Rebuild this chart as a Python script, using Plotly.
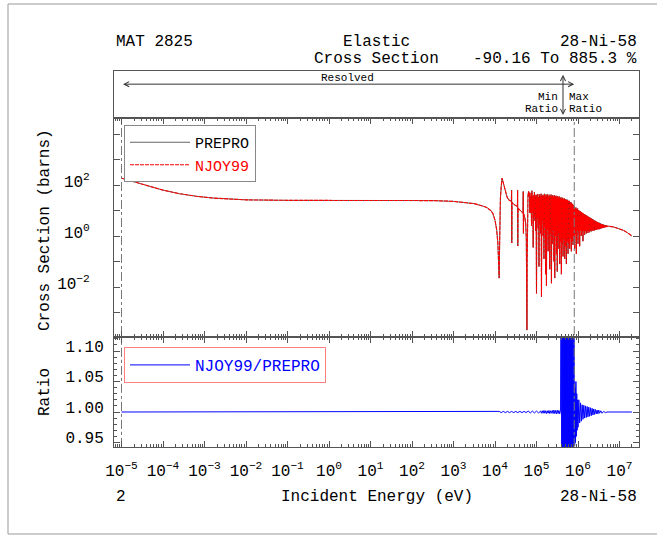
import math
import plotly.graph_objects as go

FONT = "Liberation Mono"

# ---------------- data ----------------
# Elastic cross section: log10(E / eV) and log10(sigma / barns)
xs_log_e = [
    -5.0, -4.7, -4.4, -4.0, -3.6, -3.2, -2.8, -2.4, -2.0, -1.0, 0.0, 1.0, 2.0, 2.5,
    3.0, 3.3, 3.5, 3.7, 3.8, 3.9, 3.95, 4.0, 4.04, 4.07, 4.09, 4.10, 4.11, 4.12, 4.13,
    4.15, 4.17, 4.19, 4.22, 4.26, 4.29, 4.33, 4.395, 4.40, 4.405, 4.41, 4.45, 4.50,
    4.54, 4.545, 4.55, 4.555, 4.60, 4.65, 4.675, 4.68, 4.685, 4.69, 4.72, 4.74, 4.755,
    4.765, 4.77, 4.775, 4.785, 4.795, 4.81, 4.82, 4.83, 4.84,
    # resonance forest
    4.85, 4.86, 4.87, 4.88, 4.89, 4.90, 4.91, 4.92, 4.93, 4.94, 4.95, 4.96, 4.97, 4.98, 4.99,
    5.00, 5.01, 5.02, 5.03, 5.04, 5.05, 5.06, 5.07, 5.08, 5.09, 5.10, 5.11, 5.12, 5.13, 5.14,
    5.15, 5.16, 5.17, 5.18, 5.19, 5.20, 5.21, 5.22, 5.23, 5.24, 5.25, 5.26, 5.27, 5.28, 5.29,
    5.30, 5.31, 5.32, 5.33, 5.34, 5.35, 5.36, 5.37, 5.38, 5.39, 5.40, 5.41, 5.42, 5.43, 5.44,
    5.45, 5.46, 5.47, 5.48, 5.49, 5.50, 5.51, 5.52, 5.53, 5.54, 5.55, 5.56, 5.57, 5.58, 5.59,
    5.60, 5.61, 5.62, 5.63, 5.64, 5.65, 5.66, 5.67, 5.68, 5.69, 5.70, 5.71, 5.72, 5.73, 5.74,
    5.75, 5.76, 5.77, 5.78, 5.79, 5.80, 5.81, 5.82, 5.83, 5.84, 5.85, 5.86, 5.87, 5.88, 5.89,
    5.90,
    # tail
    5.91, 5.92, 5.93, 5.94, 5.95, 5.96, 5.97, 5.98, 5.99, 6.00, 6.01, 6.02, 6.03, 6.04, 6.05,
    6.06, 6.07, 6.08, 6.09, 6.10, 6.11, 6.12, 6.13, 6.14, 6.15, 6.16, 6.17, 6.18, 6.19, 6.20,
    6.21, 6.22, 6.23, 6.24, 6.25, 6.26, 6.27, 6.28, 6.29, 6.30, 6.31, 6.32, 6.33, 6.34, 6.35,
    6.36, 6.37, 6.38, 6.39, 6.40, 6.41, 6.42, 6.43, 6.44, 6.45, 6.46, 6.47, 6.48, 6.49, 6.50,
    6.51, 6.52, 6.53, 6.54, 6.55, 6.56, 6.57, 6.58, 6.59, 6.60, 6.61, 6.62, 6.63, 6.64, 6.65,
    6.66, 6.67, 6.68, 6.69, 6.70, 6.72, 6.75,
    6.85, 7.0, 7.1, 7.2, 7.25, 7.30,
]
xs_log_sig = [
    2.27, 2.12, 1.97, 1.80, 1.66, 1.56, 1.49, 1.45, 1.42, 1.40, 1.40, 1.40, 1.40, 1.39,
    1.36, 1.32, 1.27, 1.18, 1.12, 1.00, 0.88, 0.62, 0.25, -0.30, -1.00, -1.65, -0.50, 0.80, 1.45,
    1.95, 2.27, 2.15, 1.95, 1.65, 1.53, 1.42, 1.36, 1.80, -0.27, 1.32, 1.25, 1.18,
    1.15, 1.80, -0.39, 1.10, 1.02, 0.94, 0.90, 1.75, 0.10, 0.88, 0.71, 0.50, -0.16,
    -1.50, -3.69, -1.00, 0.80, 1.60, 1.75, 1.55, 1.70, 0.90,
    # resonance forest
    1.55, 0.90, 1.70, 0.40, 1.78, 1.00, 1.55, -0.45, 1.60, 0.80, 1.72, 0.60, 1.58, 0.20, 1.62,
    -2.25, 1.55, 0.70, 1.65, 0.30, 1.52, -1.20, 1.63, 0.50, 1.58, 0.10, 1.66, -2.38, 1.56, 0.60,
    1.62, 0.00, 1.58, -0.90, 1.66, 0.40, 1.55, -1.50, 1.63, -1.95, 1.58, 0.30, 1.64, -0.60, 1.55,
    0.20, 1.62, -1.30, 1.57, 0.10, 1.63, -1.85, 1.56, -0.30, 1.60, 0.20, 1.54, -1.00, 1.60, -1.65,
    1.55, 0.00, 1.58, -0.70, 1.52, -1.40, 1.57, 0.10, 1.50, -0.50, 1.55, -1.10, 1.48, -0.20, 1.52,
    -1.50, 1.47, -0.30, 1.50, -0.80, 1.45, -0.10, 1.48, -0.90, 1.42, -0.40, 1.45, -1.10, 1.40, -0.20,
    1.42, -0.70, 1.36, -0.30, 1.38, -0.50, 1.32, -0.10, 1.33, -0.60, 1.28, -0.20, 1.25, -0.35, 1.22,
    0.00,
    # tail
    1.15, -0.50, 1.10, 0.10, 1.12, -0.70, 1.05, 0.20, 1.08, -0.30, 1.02, 0.15, 1.00, -0.40, 0.98,
    0.20, 0.95, 0.00, 0.93, 0.22, 0.90, -0.20, 0.88, 0.20, 0.86, 0.05, 0.84, 0.20, 0.82, 0.10,
    0.80, 0.22, 0.78, 0.12, 0.76, 0.20, 0.74, 0.15, 0.72, 0.22, 0.70, 0.18, 0.68, 0.24, 0.66,
    0.20, 0.64, 0.25, 0.62, 0.22, 0.60, 0.26, 0.58, 0.24, 0.56, 0.27, 0.55, 0.26, 0.53, 0.28,
    0.52, 0.27, 0.50, 0.29, 0.49, 0.30, 0.47, 0.31, 0.46, 0.32, 0.45, 0.33, 0.44, 0.34, 0.43,
    0.35, 0.42, 0.36, 0.41, 0.37, 0.39, 0.38,
    0.36, 0.28, 0.22, 0.12, 0.06, 0.00,
]

# NJOY99 / PREPRO ratio: log10(E / eV) and ratio value
ratio_log_e = [
    -5.0, 4.0,
    4.10, 4.15, 4.20, 4.25, 4.30, 4.35, 4.40, 4.45, 4.50, 4.55, 4.60, 4.65, 4.70, 4.75,
    4.80, 4.85, 4.90, 4.95, 5.00, 5.05, 5.10,
    5.12, 5.14, 5.16, 5.18, 5.20, 5.22, 5.24, 5.26, 5.28, 5.30, 5.32, 5.34, 5.36, 5.38,
    5.40, 5.42, 5.44, 5.46, 5.48, 5.50, 5.52, 5.54, 5.56, 5.58,
    5.60, 5.61, 5.62, 5.63, 5.64, 5.65, 5.66, 5.67, 5.68, 5.69, 5.70, 5.71, 5.72, 5.73,
    5.74, 5.75, 5.76, 5.77, 5.78, 5.79, 5.80, 5.81, 5.82, 5.83, 5.84, 5.85, 5.86, 5.87,
    5.88, 5.89, 5.90,
    5.91, 5.92, 5.93, 5.94, 5.95, 5.96, 5.97, 5.98, 5.99, 6.00, 6.02, 6.04, 6.06, 6.08,
    6.10, 6.12, 6.14, 6.16, 6.18, 6.20, 6.22, 6.24, 6.26, 6.28, 6.30, 6.32, 6.34, 6.36,
    6.38, 6.40, 6.42, 6.44, 6.46, 6.48, 6.50, 6.52, 6.55, 6.58, 6.62, 6.66, 6.70, 7.30,
]
ratio_val = [
    1.0, 1.0,
    1.001, 0.999, 1.001, 0.999, 1.001, 0.999, 1.001, 0.999, 1.001, 0.999, 1.001, 0.999, 1.001, 0.999,
    1.0015, 0.9985, 1.0015, 0.9985, 1.0015, 0.9985, 1.0015,
    0.998, 1.002, 0.998, 1.0025, 0.998, 1.002, 0.9975, 1.002, 0.998, 1.0025, 0.9975, 1.002, 0.998, 1.0025,
    0.9975, 1.003, 0.9975, 1.0025, 0.997, 1.003, 0.9975, 1.0025, 0.997, 1.003,
    1.6, 0.4, 1.6, 0.4, 1.6, 0.4, 1.6, 0.4, 1.6, 0.4, 1.6, 0.4, 1.6, 0.4,
    1.6, 0.4, 1.6, 0.4, 1.6, 0.4, 1.6, 0.4, 1.6, 0.4, 1.6, 0.4, 1.6, 0.4,
    1.6, 0.4, 1.6,
    1.055, 0.945, 1.040, 0.950, 1.050, 0.960, 1.030, 0.970, 1.020, 0.975, 1.020, 0.982, 1.015, 0.985,
    1.012, 0.988, 1.011, 0.990, 1.010, 0.991, 1.009, 0.992, 1.008, 0.993, 1.007, 0.994, 1.006, 0.995,
    1.005, 0.996, 1.004, 0.997, 1.003, 0.997, 1.003, 0.998, 1.002, 0.998, 1.001, 0.999, 1.0, 1.0,
]

res_lo_ev = 1.0e-5        # resolved region lower bound
res_hi_ev = 8.122e5       # resolved region upper bound
minmax_ev = 4.35e5        # location of min / max ratio

x_exponents = [-5, -4, -3, -2, -1, 0, 1, 2, 3, 4, 5, 6, 7]
y_exponents = [-4, -3, -2, -1, 0, 1, 2, 3, 4]
y_labelled = [-2, 0, 2]
ratio_ticks = [0.95, 1.00, 1.05, 1.10]
ratio_tick_text = ["0.95", "1.00", "1.05", "1.10"]

# ---------------- derived ----------------
E = [10 ** v for v in xs_log_e]
S = [10 ** v for v in xs_log_sig]
RE = [10 ** v for v in ratio_log_e]


def pow_label(p):
    return "10<sup>%s</sup>" % (("\u2212%d" % -p) if p < 0 else str(p))


x_tick_vals = [10.0 ** p for p in x_exponents]
x_tick_text = [pow_label(p) for p in x_exponents]
y_tick_vals = [10.0 ** p for p in y_exponents]
y_tick_text = [pow_label(p) if p in y_labelled else "" for p in y_exponents]

W, H = 657, 536
L, R, T, B = 114, 18, 71, 89
PW, PH = W - L - R, H - T - B


def pxx(x):
    return (x - L) / PW


def pxy(y):
    return (H - B - y) / PH


d_main = [pxy(337), pxy(118)]
d_ratio = [0.0, pxy(337)]
d_head = [pxy(118), 1.0]

AXC = "#555555"
XR = [-5.181, 7.470]

fig = go.Figure()

fig.add_trace(go.Scatter(x=E, y=S, mode="lines", name="PREPRO",
                         line=dict(color="#222222", width=0.7),
                         xaxis="x2", yaxis="y2", legend="legend", hoverinfo="skip"))
fig.add_trace(go.Scatter(x=E, y=S, mode="lines",
                         name="<span style='color:#ff0000'>NJOY99</span>",
                         line=dict(color="#ff0000", width=1.1, dash="4px,1px"),
                         xaxis="x2", yaxis="y2", legend="legend", hoverinfo="skip"))
fig.add_trace(go.Scatter(x=RE, y=ratio_val, mode="lines",
                         name="<span style='color:#0000ff'>NJOY99/PREPRO</span>",
                         line=dict(color="#0000ff", width=1),
                         xaxis="x", yaxis="y", legend="legend2", hoverinfo="skip"))

# resolved-region boundaries (dash-dot)
for eb in (res_lo_ev, res_hi_ev):
    fig.add_trace(go.Scatter(x=[eb, eb], y=[1e-6, 1e6], mode="lines", showlegend=False,
                             line=dict(color="#777777", width=1, dash="dashdot"),
                             xaxis="x2", yaxis="y2", hoverinfo="skip"))
    fig.add_trace(go.Scatter(x=[eb, eb], y=[0.5, 1.5], mode="lines", showlegend=False,
                             line=dict(color="#777777", width=1, dash="dashdot"),
                             xaxis="x", yaxis="y", hoverinfo="skip"))
# anchor trace for header box
fig.add_trace(go.Scatter(x=[res_lo_ev], y=[0.5], mode="markers", showlegend=False,
                         marker=dict(opacity=0), xaxis="x3", yaxis="y3", hoverinfo="skip"))

tickfont = dict(family=FONT, size=16, color="black")
common_x = dict(type="log", range=XR, showline=True, linecolor=AXC, linewidth=1, mirror="allticks",
                ticks="inside", ticklen=6, tickcolor=AXC, showgrid=False, zeroline=False,
                tickmode="array", tickvals=x_tick_vals, ticktext=x_tick_text,
                minor=dict(ticks="inside", ticklen=3, tickcolor=AXC, dtick="D1", showgrid=False))

ann = []


def text(s, x, y, xa="center", size=16, **kw):
    d = dict(text=s, x=x, y=y, xref="paper", yref="paper", xanchor=xa, yanchor="middle",
             showarrow=False, font=dict(family=FONT, size=size, color="black"))
    d.update(kw)
    ann.append(d)


text("MAT 2825", 0, pxy(42), "left")
text("Elastic", 0.5, pxy(42))
text("28-Ni-58", 1, pxy(42), "right")
text("Cross Section", 0.5, pxy(59))
text("-90.16 To 885.3 %", 1, pxy(59), "right")
text("2", 0, pxy(497), "left")
text("Incident Energy (eV)", 0.5, pxy(497))
text("28-Ni-58", 1, pxy(497), "right")
text("Cross Section (barns)", pxx(45), pxy(230), textangle=-90)
text("Ratio", pxx(45), pxy(392), textangle=-90)

lg_lo, lg_hi, lg_mm = math.log10(res_lo_ev), math.log10(res_hi_ev), math.log10(minmax_ev)
ann.append(dict(text="", x=lg_hi, y=0.72, ax=lg_lo, ay=0.72, xref="x3", yref="y3",
                axref="x3", ayref="y3", showarrow=True, arrowside="end+start",
                arrowhead=5, startarrowhead=5, arrowsize=1, startarrowsize=1,
                arrowwidth=1, arrowcolor="#333", standoff=0, startstandoff=0))
ann.append(dict(text="Resolved", x=(lg_lo + lg_hi) / 2, y=0.86, xref="x3", yref="y3",
                showarrow=False, font=dict(family=FONT, size=11, color="black")))
ann.append(dict(text="", x=lg_mm, y=0.92, ax=lg_mm, ay=0.03, xref="x3", yref="y3",
                axref="x3", ayref="y3", showarrow=True, arrowside="end+start",
                arrowhead=5, startarrowhead=5, arrowsize=1, startarrowsize=1,
                arrowwidth=1, arrowcolor="#333", standoff=0, startstandoff=0))
for s, yy, xa, xs in (("Min", 0.44, "right", -3), ("Ratio", 0.20, "right", -3),
                      ("Max", 0.44, "left", 4), ("Ratio", 0.20, "left", 4)):
    ann.append(dict(text=s, x=lg_mm, y=yy, xref="x3", yref="y3", xanchor=xa, xshift=xs,
                    showarrow=False, font=dict(family=FONT, size=11, color="black")))

fig.update_layout(
    width=W, height=H, margin=dict(l=L, r=R, t=T, b=B, pad=0),
    paper_bgcolor="white", plot_bgcolor="white",
    font=dict(family=FONT, size=15, color="black"),
    xaxis=dict(domain=[0, 1], anchor="y", tickfont=tickfont, ticklabelstandoff=9, **common_x),
    xaxis2=dict(domain=[0, 1], anchor="y2", matches="x", showticklabels=False, **common_x),
    xaxis3=dict(domain=[0, 1], anchor="y3", matches="x", type="log", range=XR, showticklabels=False,
                ticks="", showline=True, linecolor=AXC, mirror=True, showgrid=False, zeroline=False),
    yaxis=dict(domain=d_ratio, anchor="x", range=[0.9426, 1.123], tickmode="array",
               tickvals=ratio_ticks, ticktext=ratio_tick_text, tickfont=dict(family=FONT, size=16, color="black"),
               ticks="inside", ticklen=6, tickcolor=AXC, showline=True, linecolor=AXC, mirror="allticks",
               showgrid=False, zeroline=False, ticklabelshift=-5, ticklabelstandoff=6,
               minor=dict(ticks="inside", ticklen=3, tickcolor=AXC, dtick=0.01, showgrid=False)),
    yaxis2=dict(domain=d_main, anchor="x2", type="log", range=[-3.96, 4.63], tickmode="array",
                tickvals=y_tick_vals, ticktext=y_tick_text, tickfont=dict(family=FONT, size=16, color="black"),
                ticks="inside", ticklen=6, tickcolor=AXC, showline=True, linecolor=AXC, mirror="allticks",
                showgrid=False, zeroline=False, ticklabelshift=-4, ticklabelstandoff=20),
    yaxis3=dict(domain=d_head, anchor="x3", range=[0, 1], showticklabels=False, ticks="",
                showline=True, linecolor=AXC, mirror=True, showgrid=False, zeroline=False),
    legend=dict(x=pxx(124), y=pxy(125), xanchor="left", yanchor="top", bgcolor="white",
                bordercolor="#888888", borderwidth=1, itemwidth=60,
                font=dict(family=FONT, size=15, color="black"), tracegroupgap=0),
    legend2=dict(x=pxx(124), y=pxy(347), xanchor="left", yanchor="top", bgcolor="white",
                 bordercolor="#ff8080", borderwidth=1, itemwidth=60,
                 font=dict(family=FONT, size=16, color="black")),
    annotations=ann,
    shapes=[dict(type="rect", xref="paper", yref="paper", x0=pxx(8), x1=pxx(700),
                 y0=pxy(534), y1=pxy(4), line=dict(color="#999999", width=1))],
    showlegend=True,
)

fig.write_html("out.html")
